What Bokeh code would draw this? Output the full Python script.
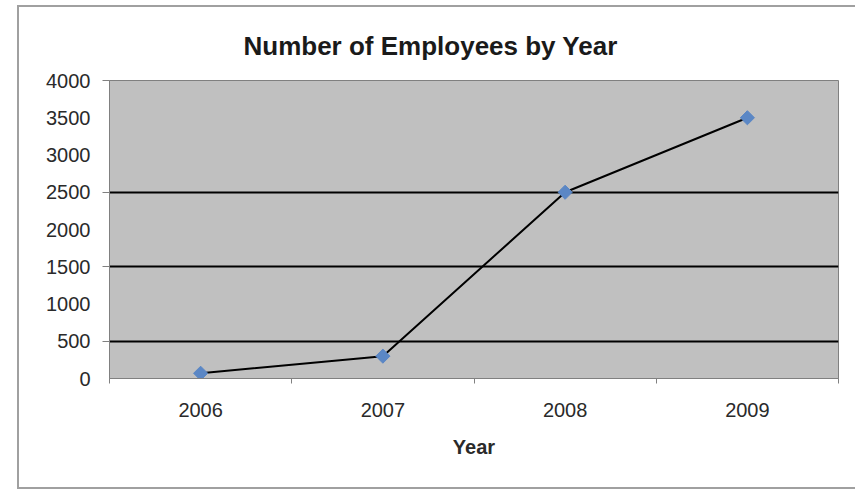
import math
from bokeh.plotting import figure
from bokeh.models import FixedTicker, Range1d
from bokeh.embed import file_html
from bokeh.resources import INLINE

years = ["2006", "2007", "2008", "2009"]
employees = [70, 300, 2500, 3500]
y_ticks = [0, 500, 1000, 1500, 2000, 2500, 3000, 3500, 4000]
grid_values = [500, 1500, 2500]
y_tick_marks = [500, 1500, 2500, 4000]

xs = [i + 0.5 for i in range(len(years))]
bounds = list(range(len(years) + 1))

FONT = "Liberation Sans"

p = figure(width=838, height=484, output_backend="svg", toolbar_location=None,
           x_range=Range1d(0, len(years)), y_range=Range1d(0, 4000),
           title="Number of Employees by Year",
           min_border_left=90, min_border_right=19, min_border_top=73, min_border_bottom=113)
p.margin = (5, 0, 0, 17)
p.styles = {"border-left": "2px solid #a0a0a0", "border-top": "2px solid #a0a0a0",
            "border-bottom": "2px solid #a0a0a0"}

p.title.align = "left"
p.title.offset = 134
p.title.standoff = 40
p.title.text_font = FONT
p.title.text_font_size = "26px"
p.title.text_font_style = "bold"
p.title.text_color = "#1a1a1a"

p.background_fill_color = "#c0c0c0"
p.border_fill_color = "white"
p.outline_line_color = "#808080"
p.outline_line_width = 1

p.xgrid.visible = False
p.ygrid.ticker = FixedTicker(ticks=grid_values)
p.ygrid.grid_line_color = "black"
p.ygrid.grid_line_width = 2

p.xaxis.ticker = FixedTicker(ticks=xs, minor_ticks=bounds)
p.xaxis.major_label_overrides = {x: y for x, y in zip(xs, years)}
p.xaxis.major_tick_line_color = None
p.xaxis.major_tick_out = 0
p.xaxis.major_tick_in = 0
p.xaxis.minor_tick_out = 5
p.xaxis.minor_tick_in = 0
p.xaxis.minor_tick_line_color = "#808080"
p.xaxis.major_label_standoff = 19
p.xaxis.axis_label = "Year"
p.xaxis.axis_label_text_font_style = "bold"
p.xaxis.axis_label_standoff = 16

p.yaxis.ticker = FixedTicker(ticks=y_ticks, minor_ticks=y_tick_marks)
p.yaxis.major_tick_line_color = None
p.yaxis.major_tick_out = 0
p.yaxis.major_tick_in = 0
p.yaxis.minor_tick_out = 7
p.yaxis.minor_tick_in = 0
p.yaxis.minor_tick_line_color = "#808080"
p.yaxis.major_label_standoff = 12

for ax in (p.xaxis[0], p.yaxis[0]):
    ax.axis_line_color = "#808080"
    ax.major_label_text_font = FONT
    ax.major_label_text_font_size = "20px"
    ax.major_label_text_color = "#2a2a2a"
    ax.axis_label_text_font = FONT
    ax.axis_label_text_font_size = "20px"
    ax.axis_label_text_color = "#2a2a2a"

p.line(xs, employees, line_color="black", line_width=2)
p.scatter(xs, employees, marker="square", angle=math.pi / 4, size=10,
          fill_color="#5b87c5", line_color="#5b87c5")

open("out.html", "w").write(file_html(p, INLINE))
